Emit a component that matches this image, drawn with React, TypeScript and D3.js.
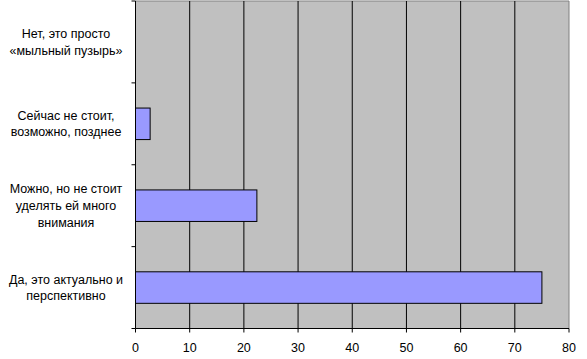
import React from "react";
import * as d3 from "d3";

const categories: string[][] = [
  ["Нет, это просто", "«мыльный пузырь»"],
  ["Сейчас не стоит,", "возможно, позднее"],
  ["Можно, но не стоит", "уделять ей много", "внимания"],
  ["Да, это актуально и", "перспективно"],
];
const values: number[] = [0, 2.7, 22.4, 75];
const xTicks: number[] = [0, 10, 20, 30, 40, 50, 60, 70, 80];

const W = 587;
const H = 359;
const left = 135.5;
const right = 569;
const top = 1;
const bottom = 328.5;

export default function App() {
  const x = d3.scaleLinear().domain([0, 80]).range([left, right]);
  const idx = categories.map((_, i) => String(i));
  const y = d3
    .scaleBand<string>()
    .domain(idx)
    .range([top, bottom])
    .paddingInner(0.615)
    .paddingOuter(0.3075);
  const font = "Arial, 'Liberation Sans', sans-serif";
  return (
    <svg
      width={W}
      height={H}
      style={{ position: "absolute", left: 0, top: 0, background: "#fff" }}
      fontFamily={font}
    >
      <rect x={left} y={top} width={right - left} height={bottom - top} fill="#C0C0C0" />
      <line x1={left} x2={right} y1={top} y2={top} stroke="#808080" />
      <line x1={right} x2={right} y1={top} y2={bottom} stroke="#808080" />
      {xTicks.slice(1, -1).map((t) => (
        <line key={"g" + t} x1={x(t)} x2={x(t)} y1={top} y2={bottom} stroke="#000" />
      ))}
      {values.map((v, i) =>
        v > 0 ? (
          <rect
            key={"b" + i}
            x={x(0)}
            y={y(String(i))!}
            width={x(v) - x(0)}
            height={y.bandwidth()}
            fill="#9999FF"
            stroke="#000"
          />
        ) : null
      )}
      {/* left axis */}
      <line x1={left} x2={left} y1={top} y2={bottom} stroke="#000" />
      {d3.range(categories.length + 1).map((i) => {
        const yy = top + (bottom - top) * (i / categories.length);
        return <line key={"lt" + i} x1={left - 4} x2={left} y1={yy} y2={yy} stroke="#000" />;
      })}
      {/* bottom axis */}
      <line x1={left} x2={right} y1={bottom} y2={bottom} stroke="#000" />
      {xTicks.map((t) => (
        <g key={"xt" + t}>
          <line x1={x(t)} x2={x(t)} y1={bottom} y2={bottom + 4} stroke="#000" />
          <text x={x(t)} y={352} fontSize={12.5} textAnchor="middle" fill="#000">
            {t}
          </text>
        </g>
      ))}
      {categories.map((lines, i) => {
        const cy = y(String(i))! + y.bandwidth() / 2;
        const lh = 16.6;
        const y0 = cy - ((lines.length - 1) * lh) / 2;
        return (
          <text key={"c" + i} x={66} fontSize={12.5} textAnchor="middle" fill="#000">
            {lines.map((ln, j) => (
              <tspan key={j} x={66} y={y0 + j * lh} dy="0.35em">
                {ln}
              </tspan>
            ))}
          </text>
        );
      })}
    </svg>
  );
}
